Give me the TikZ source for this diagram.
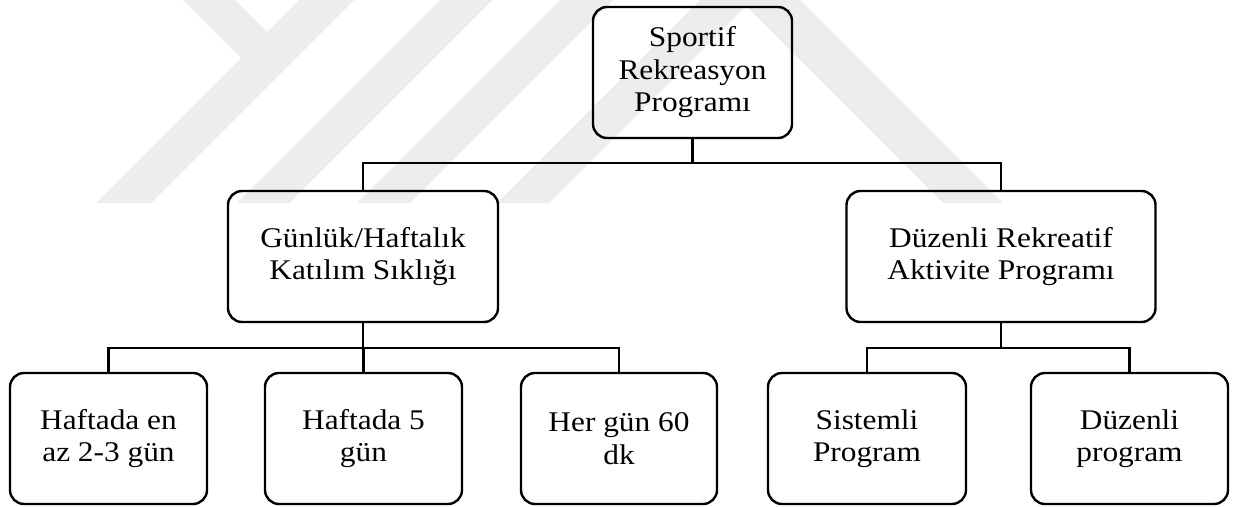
\documentclass[tikz,border=0pt]{standalone}
\usepackage{fontspec}
\setmainfont{Liberation Serif}[FakeStretch=1.1]
\begin{document}
\begin{tikzpicture}[x=1pt,y=-1pt,
  box/.style={draw, line width=2.4pt, rounded corners=14pt, align=center,
    inner sep=0pt, minimum height=131pt,
    font=\fontsize{28.5}{32.5}\selectfont},
  link/.style={line width=2.4pt},
  wm/.style={fill=black!7, draw=none}]
\useasboundingbox (0,0) rectangle (1234,506);
% faint watermark
\fill[wm] (183,0) -- (235,0) -- (267,32) -- (299,0) -- (354,0) -- (151,203) -- (96,203) -- (241,58) -- cycle;
\fill[wm] (440,0) -- (492,0) -- (289,203) -- (237,203) -- cycle;
\fill[wm] (560,0) -- (613,0) -- (410,203) -- (357,203) -- cycle;
\fill[wm] (700,0) -- (752,0) -- (549,203) -- (497,203) -- cycle;
\fill[wm] (740,0) -- (800,0) -- (1003,203) -- (943,203) -- cycle;
% nodes
\node[box, minimum width=199pt] (top) at (692.5,72.5) {Sportif\\Rekreasyon\\Programı};
\node[box, minimum width=270pt] (ml) at (363,256.5) {Günlük/Haftalık\\Katılım Sıklığı};
\node[box, minimum width=309pt] (mr) at (1001,256.5) {Düzenli Rekreatif\\Aktivite Programı};
\node[box, minimum width=197pt] (b1) at (108.5,438.5) {Haftada en\\az 2-3 gün};
\node[box, minimum width=197pt] (b2) at (363.5,438.5) {Haftada 5\\gün};
\node[box, minimum width=196pt] (b3) at (619,438.5) {Her gün 60\\dk};
\node[box, minimum width=198pt] (b4) at (867,438.5) {Sistemli\\Program};
\node[box, minimum width=197pt] (b5) at (1129.5,438.5) {Düzenli\\program};
% bus coordinates
\coordinate (busA) at (0,163);
\coordinate (busB) at (0,348);
% connectors
\draw[link] (top.south) -- (top.south |- busA);
\draw[link] (ml.north) -- (ml.north |- busA) -| (mr.north);
\draw[link] (ml.south) -- (ml.south |- busB);
\draw[link] (b1.north) -- (b1.north |- busB) -| (b3.north);
\draw[link] (b2.north) -- (b2.north |- busB);
\draw[link] (mr.south) -- (mr.south |- busB);
\draw[link] (b4.north) -- (b4.north |- busB) -| (b5.north);
\end{tikzpicture}
\end{document}
